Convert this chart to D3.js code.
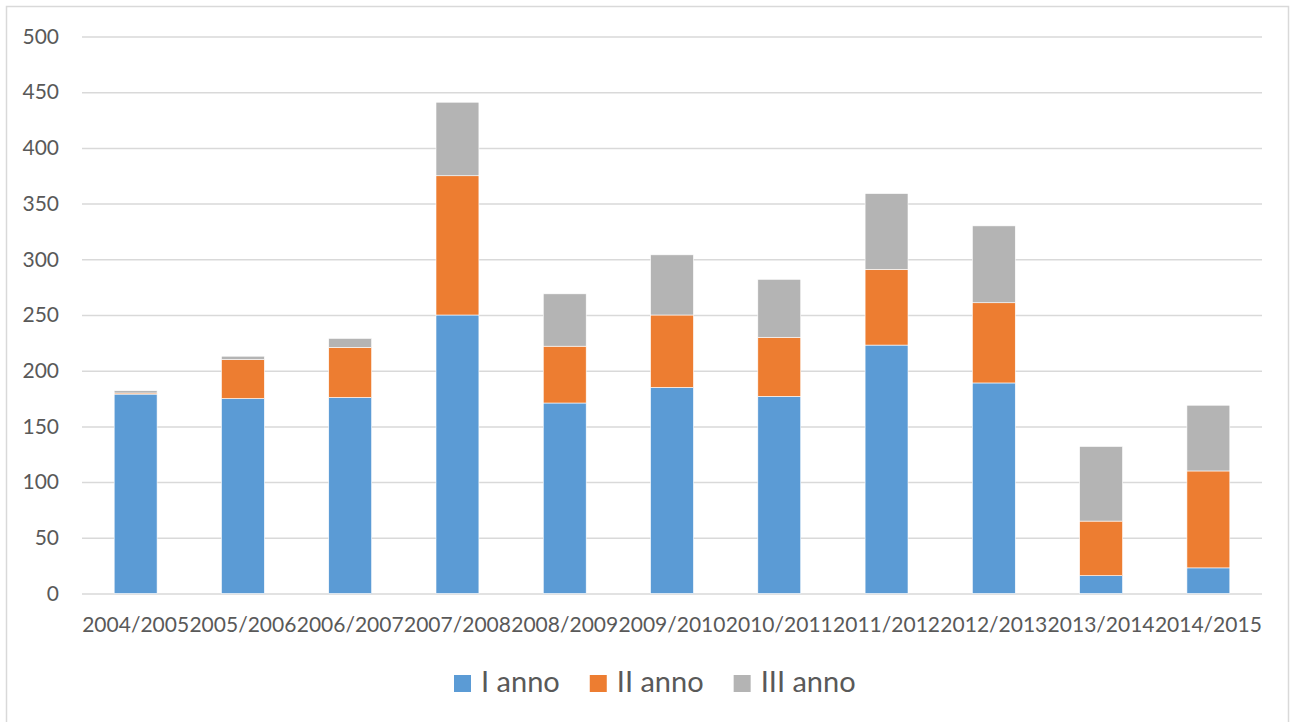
<!DOCTYPE html>
<html>
	<head>
		<title>Iscritti per anno</title>
		<style type="text/css">
			body{
				margin: 0;
				background: #fff;
			}
			#chart{
				width: 1292px;
				height: 722px;
			}
			text{
				font-family: Lato, "Open Sans", sans-serif;
				fill: #595959;
			}
		</style>
	</head>
	<body>
		<div id="chart"></div>

	<script type="text/javascript" src="https://cdn.jsdelivr.net/npm/d3@7/dist/d3.min.js"></script>
	<script>
		var years = ['2004/2005','2005/2006','2006/2007','2007/2008','2008/2009','2009/2010',
					'2010/2011','2011/2012','2012/2013','2013/2014','2014/2015'];
		var anno1 = [179, 175, 176, 250, 171, 185, 177, 223, 189, 16, 23];
		var anno2 = [1, 35, 45, 125, 51, 65, 53, 68, 72, 49, 87];
		var anno3 = [2, 3, 8, 66, 47, 54, 52, 68, 69, 67, 59];
		var seriesNames = ['I anno', 'II anno', 'III anno'];
		var yTicks = [0, 50, 100, 150, 200, 250, 300, 350, 400, 450, 500];

		var COLOR = ['#5B9BD5', '#ED7D31', '#B4B4B4'];

		var svg = d3.select('#chart').append('svg')
				.attr('width', 1292).attr('height', 722);

		// chart frame
		svg.append('rect')
			.attr('x', 6.5).attr('y', 6.5)
			.attr('width', 1282).attr('height', 730)
			.attr('fill', '#fff')
			.attr('stroke', '#D9D9D9')
			.attr('stroke-width', 1.5);

		var x = d3.scaleBand()
				.domain(years)
				.range([82, 1262])
				.paddingInner(0.6)
				.paddingOuter(0.3);

		var y = d3.scaleLinear()
				.domain([0, 500])
				.range([593.5, 36.5]);

		// gridlines
		var yAxis = d3.axisLeft(y)
				.tickValues(yTicks)
				.tickSize(-1180)
				.tickPadding(23);

		var ga = svg.append('g')
			.attr('transform', 'translate(82,0)')
			.call(yAxis);
		ga.select('.domain').remove();
		ga.selectAll('line')
			.attr('stroke', '#D9D9D9')
			.attr('stroke-width', 1.5);
		ga.selectAll('text')
			.attr('fill', '#595959')
			.style('font-size', '21px');

		// stacked bars
		var rows = years.map(function(d, i){
			return { year: d, a1: anno1[i], a2: anno2[i], a3: anno3[i] };
		});
		var stack = d3.stack().keys(['a1', 'a2', 'a3']);
		var layers = stack(rows);

		var g = svg.append('g');
		g.selectAll('.layer')
			.data(layers)
			.enter().append('g')
			.attr('class', 'layer')
			.attr('fill', function(d, i){ return COLOR[i]; })
			.selectAll('rect')
			.data(function(d){ return d; })
			.enter().append('rect')
			.attr('x', function(d){ return x(d.data.year); })
			.attr('y', function(d){ return y(d[1]); })
			.attr('width', x.bandwidth())
			.attr('height', function(d){ return y(d[0]) - y(d[1]); })
			.attr('stroke', '#fff')
			.attr('stroke-width', 0.6);

		// x axis labels
		var xAxis = d3.axisBottom(x).tickSize(0).tickPadding(0);
		var gx = svg.append('g')
			.attr('transform', 'translate(0,593.5)')
			.call(xAxis);
		gx.select('.domain').remove();
		gx.selectAll('text')
			.attr('fill', '#595959')
			.attr('dy', null)
			.attr('y', 38)
			.style('font-size', '21px');

		// legend
		var leg = svg.append('g');
		var lx = 454;
		seriesNames.forEach(function(name, i){
			leg.append('rect')
				.attr('x', lx).attr('y', 675)
				.attr('width', 17).attr('height', 17)
				.attr('fill', COLOR[i]);
			var t = leg.append('text')
				.attr('x', lx + 27).attr('y', 692)
				.style('font-size', '29px')
				.text(name);
			lx += 27 + t.node().getComputedTextLength() + 30;
		});
	</script>
	</body>
</html>
